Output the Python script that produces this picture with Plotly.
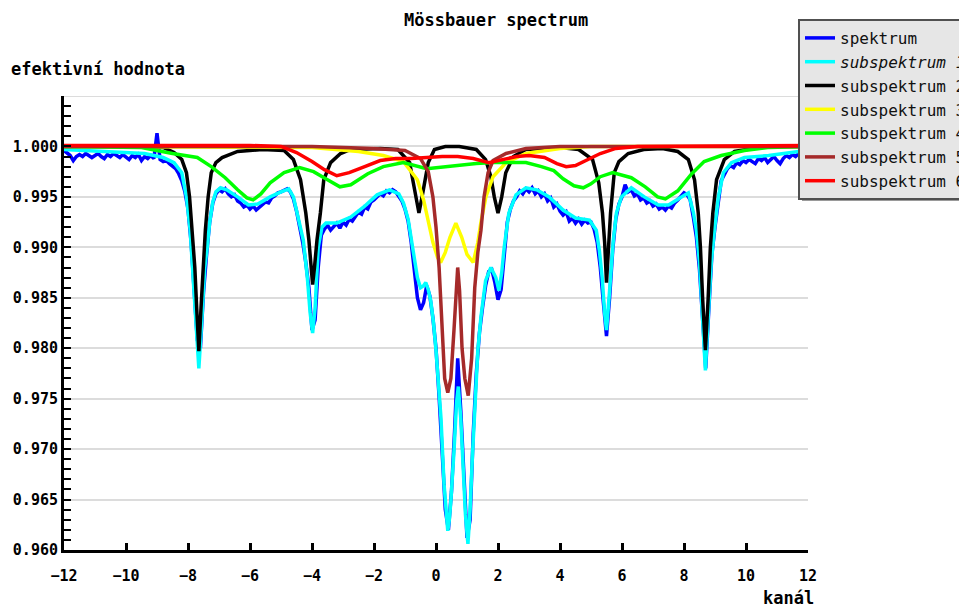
import numpy as np
import plotly.graph_objects as go

# ---------------- data ----------------
# measured spectrum, uniform channel grid from -12 to 12 in steps of 0.1
spek_x = np.round(np.linspace(-12, 12, 241), 2)
spek_y = [
    0.9996, 0.9993, 0.9991, 0.9986, 0.9990, 0.9992, 0.9990, 0.9993, 0.9991, 0.9989,
    0.9991, 0.9993, 0.9990, 0.9988, 0.9992, 0.9990, 0.9993, 0.9991, 0.9989, 0.9992,
    0.9990, 0.9987, 0.9991, 0.9989, 0.9992, 0.9986, 0.9990, 0.9988, 0.9991, 0.9988,
    1.0013, 0.9987, 0.9985, 0.9986, 0.9983, 0.9980, 0.9978, 0.9973, 0.9966, 0.9955,
    0.9938, 0.9905, 0.9860, 0.9808, 0.9800, 0.9855, 0.9893, 0.9925, 0.9944, 0.9953,
    0.9957, 0.9955, 0.9958, 0.9953, 0.9950, 0.9952, 0.9946, 0.9944, 0.9940, 0.9942,
    0.9938, 0.9941, 0.9937, 0.9940, 0.9942, 0.9945, 0.9944, 0.9949, 0.9951, 0.9954,
    0.9955, 0.9957, 0.9958, 0.9955, 0.9948, 0.9936, 0.9922, 0.9905, 0.9885, 0.9860,
    0.9818, 0.9828, 0.9880, 0.9912, 0.9918, 0.9922, 0.9917, 0.9921, 0.9924, 0.9919,
    0.9925, 0.9922, 0.9928, 0.9926, 0.9931, 0.9935, 0.9933, 0.9940, 0.9938, 0.9945,
    0.9947, 0.9950, 0.9953, 0.9951, 0.9956, 0.9954, 0.9957, 0.9955, 0.9950, 0.9946,
    0.9938, 0.9926, 0.9905, 0.9880, 0.9850, 0.9838, 0.9845, 0.9862, 0.9852, 0.9830,
    0.9800, 0.9752, 0.9700, 0.9640, 0.9620, 0.9658, 0.9718, 0.9790, 0.9738, 0.9665,
    0.9612, 0.9630, 0.9715, 0.9775, 0.9815, 0.9840, 0.9862, 0.9876, 0.9878, 0.9865,
    0.9848, 0.9858, 0.9895, 0.9925, 0.9938, 0.9946, 0.9950, 0.9956, 0.9953, 0.9958,
    0.9955, 0.9959, 0.9953, 0.9956, 0.9950, 0.9953, 0.9946, 0.9949, 0.9940, 0.9943,
    0.9936, 0.9932, 0.9935, 0.9926, 0.9929, 0.9924, 0.9928, 0.9923, 0.9927, 0.9924,
    0.9925, 0.9918, 0.9905, 0.9880, 0.9845, 0.9812, 0.9850, 0.9897, 0.9928, 0.9943,
    0.9950, 0.9962, 0.9955, 0.9957, 0.9951, 0.9953, 0.9947, 0.9949, 0.9944, 0.9946,
    0.9941, 0.9943, 0.9938, 0.9940, 0.9937, 0.9941, 0.9939, 0.9944, 0.9947, 0.9950,
    0.9954, 0.9952, 0.9947, 0.9930, 0.9910, 0.9878, 0.9825, 0.9780, 0.9838, 0.9893,
    0.9920, 0.9945, 0.9966, 0.9972, 0.9978, 0.9981, 0.9979, 0.9984, 0.9982, 0.9986,
    0.9984, 0.9987, 0.9985, 0.9983, 0.9988, 0.9986, 0.9989, 0.9984, 0.9987, 0.9990,
    0.9986, 0.9983, 0.9988, 0.9991, 0.9989, 0.9992, 0.9990, 0.9993, 0.9991, 0.9993,
    0.9994,
]

sub1_x = [-12, -11.2, -10.4, -9.4, -8.8, -8.45, -8.2, -8.05, -7.93, -7.85, -7.77, -7.65,
          -7.55, -7.46, -7.38, -7.3, -7.2, -7.1, -6.95, -6.75, -6.4, -6.05, -5.75, -5.35,
          -5.0, -4.75, -4.6, -4.45, -4.28, -4.15, -4.06, -3.98, -3.9, -3.8, -3.68, -3.55,
          -3.2, -2.75, -2.33, -1.9, -1.5, -1.2, -1.05, -0.9, -0.78, -0.72, -0.6, -0.5,
          -0.4, -0.33, -0.25, -0.17, -0.08, 0.0, 0.08, 0.16, 0.26, 0.33, 0.38, 0.43, 0.48,
          0.58, 0.66, 0.72, 0.8, 0.88, 0.95, 1.03, 1.1, 1.17, 1.23, 1.35, 1.45, 1.6, 1.77,
          1.93, 2.03, 2.12, 2.2, 2.35, 2.58, 2.9, 3.25, 3.65, 4.1, 4.5, 4.95, 5.17, 5.27,
          5.36, 5.44, 5.5, 5.57, 5.65, 5.72, 5.82, 5.98, 6.3, 6.72, 7.17, 7.5, 7.92, 8.14,
          8.3, 8.4, 8.5, 8.6, 8.69, 8.78, 8.88, 8.98, 9.11, 9.27, 9.53, 9.95, 10.73, 11.7, 12]
sub1_y = [0.9997, 0.9996, 0.9995, 0.9993, 0.9989, 0.9984, 0.9974, 0.9950, 0.9917, 0.9880,
          0.9830, 0.9780, 0.9830, 0.9880, 0.9900, 0.9925, 0.9945, 0.9955, 0.9959, 0.9957,
          0.9950, 0.9942, 0.9943, 0.9950, 0.9955, 0.9958, 0.9950, 0.9930, 0.9907, 0.9870,
          0.9835, 0.9815, 0.9840, 0.9900, 0.9920, 0.9924, 0.9924, 0.9930, 0.9940, 0.9952,
          0.9957, 0.9953, 0.9944, 0.9928, 0.9905, 0.9897, 0.9870, 0.9860, 0.9862, 0.9865,
          0.9858, 0.9847, 0.9825, 0.9798, 0.9765, 0.9731, 0.9665, 0.9630, 0.9619, 0.9630,
          0.9649, 0.9698, 0.9745, 0.9762, 0.9730, 0.9680, 0.9635, 0.9606, 0.9640, 0.9690,
          0.9731, 0.9798, 0.9831, 0.9867, 0.9880, 0.9870, 0.9857, 0.9875, 0.9900, 0.9934,
          0.9952, 0.9959, 0.9957, 0.9950, 0.9937, 0.9929, 0.9927, 0.9917, 0.9897, 0.9870,
          0.9835, 0.9818, 0.9845, 0.9880, 0.9907, 0.9934, 0.9950, 0.9959, 0.9950, 0.9942,
          0.9942, 0.9950, 0.9954, 0.9935, 0.9917, 0.9885, 0.9830, 0.9778, 0.9830, 0.9885,
          0.9917, 0.9950, 0.9974, 0.9984, 0.9989, 0.9991, 0.9995, 0.9995]

sub2_x = [-12, -9.4, -8.8, -8.45, -8.2, -8.05, -7.95, -7.86, -7.78, -7.72, -7.65, -7.58,
          -7.52, -7.44, -7.35, -7.25, -7.1, -6.9, -6.4, -5.6, -4.9, -4.6, -4.37, -4.2, -4.1,
          -4.04, -3.98, -3.92, -3.84, -3.73, -3.62, -3.4, -3.08, -2.75, -1.8, -1.23, -0.85,
          -0.75, -0.65, -0.55, -0.45, -0.35, -0.25, -0.05, 0.3, 0.75, 1.3, 1.6, 1.77, 1.88,
          2.0, 2.12, 2.25, 2.5, 2.9, 4.0, 4.6, 5.05, 5.25, 5.37, 5.44, 5.5, 5.56, 5.63, 5.75,
          5.9, 6.2, 6.7, 7.3, 7.8, 8.14, 8.34, 8.46, 8.53, 8.6, 8.69, 8.78, 8.85, 8.93, 9.05,
          9.3, 9.63, 10.2, 10.6, 12]
sub2_y = [1.0000, 1.0000, 0.9999, 0.9994, 0.9987, 0.9974, 0.9950, 0.9917, 0.9880, 0.9840,
          0.9797, 0.9840, 0.9880, 0.9917, 0.9950, 0.9974, 0.9984, 0.9989, 0.9995, 0.9997,
          0.9996, 0.9987, 0.9967, 0.9934, 0.9907, 0.9880, 0.9863, 0.9880, 0.9907, 0.9934,
          0.9967, 0.9984, 0.9993, 0.9997, 0.9998, 0.9997, 0.9984, 0.9967, 0.9950, 0.9934,
          0.9950, 0.9967, 0.9984, 0.9997, 1.0000, 1.0000, 0.9997, 0.9987, 0.9970, 0.9950,
          0.9934, 0.9950, 0.9974, 0.9990, 0.9997, 0.9999, 0.9997, 0.9987, 0.9964, 0.9934,
          0.9905, 0.9865, 0.9905, 0.9934, 0.9974, 0.9985, 0.9993, 0.9997, 0.9998, 0.9995,
          0.9987, 0.9967, 0.9934, 0.9900, 0.9850, 0.9798, 0.9850, 0.9900, 0.9934, 0.9967,
          0.9987, 0.9995, 0.9998, 1.0000, 1.0000]

sub3_x = [-12, -4, -2.5, -1.7, -1.05, -0.6, -0.4, -0.25, -0.1, 0.05, 0.15, 0.3, 0.45,
          0.64, 0.83, 1.0, 1.2, 1.35, 1.45, 1.61, 1.84, 2.26, 2.9, 4.0, 5.0, 12]
sub3_y = [1.0000, 0.9999, 0.9995, 0.9991, 0.9985, 0.9967, 0.9947, 0.9924, 0.9905, 0.9890,
          0.9885, 0.9895, 0.9910, 0.9924, 0.9910, 0.9893, 0.9885, 0.9905, 0.9925, 0.9950,
          0.9970, 0.9984, 0.9993, 0.9998, 1.0000, 1.0000]

sub4_x = [-12, -9.5, -8.5, -7.7, -7.25, -6.8, -6.4, -6.1, -5.9, -5.65, -5.35, -4.9, -4.4,
          -3.95, -3.5, -3.1, -2.75, -2.2, -1.7, -1.05, -0.3, 0.3, 0.75, 1.3, 1.85, 2.9, 3.4,
          3.8, 4.1, 4.45, 4.75, 5.0, 5.3, 5.7, 6.3, 6.75, 7.15, 7.4, 7.8, 8.25, 8.65, 9.2,
          9.95, 10.7, 12]
sub4_y = [1.0000, 0.9999, 0.9993, 0.9989, 0.9980, 0.9969, 0.9957, 0.9949, 0.9947, 0.9953,
          0.9964, 0.9974, 0.9979, 0.9975, 0.9967, 0.9960, 0.9962, 0.9973, 0.9980, 0.9984,
          0.9978, 0.9980, 0.9982, 0.9983, 0.9984, 0.9984, 0.9980, 0.9976, 0.9968, 0.9961,
          0.9959, 0.9963, 0.9970, 0.9974, 0.9969, 0.9960, 0.9950, 0.9948, 0.9956, 0.9973,
          0.9985, 0.9991, 0.9996, 0.9999, 1.0000]

sub5_x = [-12, -4, -2, -1.0, -0.5, -0.25, -0.1, 0.0, 0.1, 0.2, 0.28, 0.38, 0.48, 0.58,
          0.65, 0.70, 0.76, 0.84, 0.93, 1.04, 1.15, 1.25, 1.35, 1.45, 1.55, 1.68, 1.84, 2.26,
          2.9, 4, 12]
sub5_y = [1.0000, 1.0000, 0.9998, 0.9996, 0.9988, 0.9975, 0.9950, 0.9920, 0.9880, 0.9810,
          0.9770, 0.9756, 0.9770, 0.9818, 0.9857, 0.9880, 0.9857, 0.9800, 0.9770, 0.9753,
          0.9790, 0.9860, 0.9895, 0.9917, 0.9950, 0.9974, 0.9986, 0.9993, 0.9998, 1.0000,
          1.0000]

sub6_x = [-12, -6, -5, -4.5, -4, -3.6, -3.2, -2.8, -2.3, -1.8, -1.3, -0.8, -0.3, 0.2, 0.7,
          1.2, 1.7, 2.1, 2.6, 3.0, 3.5, 3.9, 4.2, 4.5, 4.9, 5.3, 5.8, 6.5, 12]
sub6_y = [1.0001, 1.0001, 1.0000, 0.9994, 0.9985, 0.9977, 0.9971, 0.9974, 0.9980, 0.9986,
          0.9988, 0.9988, 0.9989, 0.9990, 0.9990, 0.9988, 0.9984, 0.9987, 0.9990, 0.9991,
          0.9989, 0.9983, 0.9980, 0.9981, 0.9987, 0.9993, 0.9998, 1.0000, 1.0001]

x_ticks = [-12, -10, -8, -6, -4, -2, 0, 2, 4, 6, 8, 10, 12]
y_ticks = [0.960, 0.965, 0.970, 0.975, 0.980, 0.985, 0.990, 0.995, 1.000, 1.005]
y_ticklabels = ["0.960", "0.965", "0.970", "0.975", "0.980", "0.985", "0.990", "0.995",
                "1.000", ""]

series = [
    ("spektrum", spek_x, spek_y, "#0000ff"),
    ("<i>subspektrum 1</i>", sub1_x, sub1_y, "#00ffff"),
    ("subspektrum 2", sub2_x, sub2_y, "#000000"),
    ("subspektrum 3", sub3_x, sub3_y, "#ffff00"),
    ("subspektrum 4", sub4_x, sub4_y, "#00ff00"),
    ("subspektrum 5", sub5_x, sub5_y, "#a52a2a"),
    ("subspektrum 6", sub6_x, sub6_y, "#ff0000"),
]

# ---------------- figure ----------------
# page has an 8px body margin, so the figure is made 8px smaller and the
# target screen positions (below, in px_x / px_y) are corrected for it
OFF = 8
W, H = 967 - OFF, 607 - OFF
ML, MR, MT, MB = 64 - OFF, W - (808 - OFF), 96 - OFF, H - (550 - OFF)
PW, PH = W - ML - MR, H - MT - MB


def px_x(p):
    return (p - OFF - ML) / PW


def px_y(p):
    return (H - MB - (p - OFF)) / PH


fig = go.Figure()
for name, xs, ys, col in series:
    fig.add_trace(go.Scatter(x=xs, y=ys, mode="lines", name=name,
                             line=dict(color=col, width=3.5)))

mono = "DejaVu Sans Mono"
fig.update_layout(
    width=W, height=H, template="none",
    paper_bgcolor="white", plot_bgcolor="white",
    margin=dict(l=ML, r=MR, t=MT, b=MB, autoexpand=False),
    showlegend=True,
    legend=dict(x=px_x(798), y=px_y(19), xanchor="left", yanchor="top",
                bgcolor="#e6e6e6", bordercolor="#505050", borderwidth=2,
                font=dict(family=mono, size=16, color="#111111"),
                tracegroupgap=0),
    xaxis=dict(range=[-12, 12], tickvals=x_ticks, showgrid=False, zeroline=False,
               showline=True, linecolor="black", linewidth=3,
               ticks="inside", ticklen=7, tickwidth=3, tickcolor="black",
               tickfont=dict(family=mono, size=15, color="black", weight="bold"),
               ticklabelstandoff=10),
    yaxis=dict(range=[0.960, 1.005], tickvals=y_ticks, ticktext=y_ticklabels,
               showgrid=True, gridcolor="#dcdcdc", gridwidth=2, zeroline=False,
               showline=True, linecolor="black", linewidth=3,
               ticks="inside", ticklen=7, tickwidth=2, tickcolor="black",
               tickfont=dict(family=mono, size=15, color="black", weight="bold"),
               minor=dict(dtick=0.001, tick0=0.96, ticks="inside", ticklen=7,
                          tickwidth=2, tickcolor="black", showgrid=False)),
    shapes=[
        dict(type="line", xref="paper", yref="y", x0=0, x1=1, y0=1.005, y1=1.005,
             line=dict(color="#dcdcdc", width=2), layer="below"),
        dict(type="rect", xref="paper", yref="paper",
             x0=px_x(802), x1=px_x(990), y0=px_y(201), y1=px_y(23),
             fillcolor="#9a9a9a", line=dict(width=0)),
    ],
    annotations=[
        dict(text="Mössbauer spectrum", xref="paper", yref="paper",
             x=px_x(496), y=px_y(20), xanchor="center", yanchor="middle",
             showarrow=False, font=dict(family=mono, size=17, color="black", weight="bold")),
        dict(text="efektivní hodnota", xref="paper", yref="paper",
             x=px_x(9), y=px_y(69), xanchor="left", yanchor="middle",
             showarrow=False, font=dict(family=mono, size=17, color="black", weight="bold")),
        dict(text="kanál", xref="paper", yref="paper",
             x=px_x(816), y=px_y(598), xanchor="right", yanchor="middle",
             showarrow=False, font=dict(family=mono, size=17, color="black", weight="bold")),
    ],
)

fig.write_html("out.html")
